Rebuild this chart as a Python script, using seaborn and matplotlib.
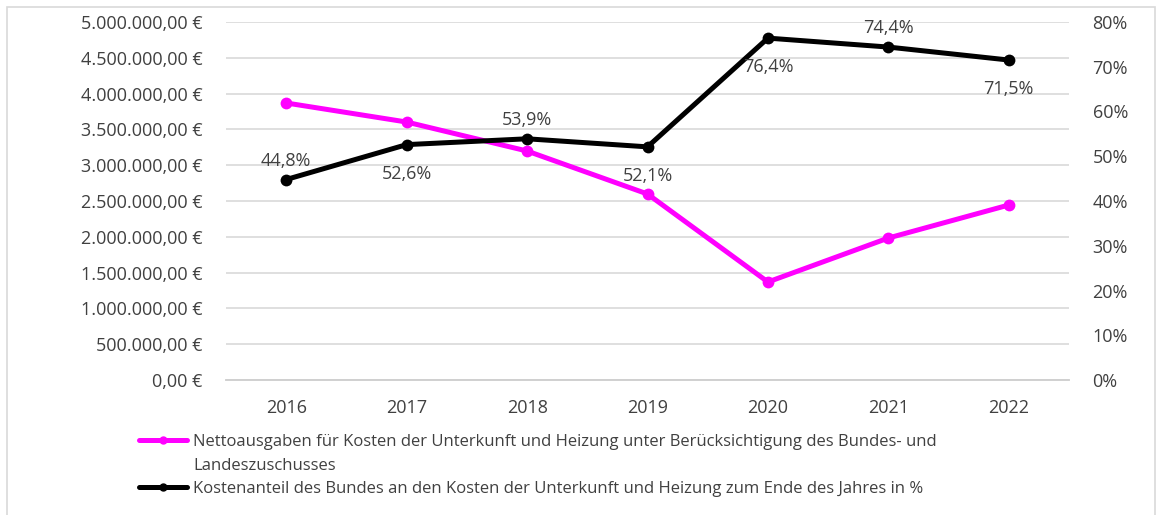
import numpy as np
import pandas as pd
import matplotlib.pyplot as plt
import seaborn as sns
from matplotlib.lines import Line2D
from matplotlib.patches import Rectangle
from matplotlib.ticker import FuncFormatter, MultipleLocator

years = ["2016", "2017", "2018", "2019", "2020", "2021", "2022"]
netto = [3869000, 3603000, 3198000, 2598000, 1369000, 1983000, 2444000]
anteil = [44.8, 52.6, 53.9, 52.1, 76.4, 74.4, 71.5]
label_pos = ["above", "below", "above", "below", "below", "above", "below"]

label_netto = ["Nettoausgaben für Kosten der Unterkunft und Heizung unter Berücksichtigung des Bundes- und",
               "Landeszuschusses"]
label_anteil = "Kostenanteil des Bundes an den Kosten der Unterkunft und Heizung zum Ende des Jahres in %"

pink = "#ff00ff"
text_col = "#404040"

df = pd.DataFrame({"x": np.arange(len(years)), "netto": netto, "anteil": anteil})

sns.set_style("white")
plt.rcParams["font.family"] = ["Open Sans", "DejaVu Sans"]

fig = plt.figure(figsize=(11.63, 5.15), dpi=100)
ax = fig.add_axes([226 / 1163, 1 - 380 / 515, (1069 - 226) / 1163, (380 - 22) / 515])
ax2 = ax.twinx()

sns.lineplot(data=df, x="x", y="netto", ax=ax, color=pink, linewidth=3.6,
             marker="o", markersize=8.5, markeredgewidth=0, legend=False)
sns.lineplot(data=df, x="x", y="anteil", ax=ax2, color="black", linewidth=3.6,
             marker="o", markersize=8.5, markeredgewidth=0, legend=False)

ax.set_xlim(-0.5, len(years) - 0.5)
ax.set_ylim(0, 5000000)
ax2.set_ylim(0, 80)
ax.yaxis.set_major_locator(MultipleLocator(500000))
ax2.yaxis.set_major_locator(MultipleLocator(10))


def euro(v, pos):
    s = f"{v:,.2f}".replace(",", "X").replace(".", ",").replace("X", ".")
    return s + " €"


ax.yaxis.set_major_formatter(FuncFormatter(euro))
ax2.yaxis.set_major_formatter(FuncFormatter(lambda v, p: f"{v:.0f}%"))

ax.set_xticks(range(len(years)))
ax.set_xticklabels(years)
ax.set_xticks(np.arange(-0.5, len(years)), minor=True)
ax.tick_params(axis="x", which="major", length=0, pad=14, labelsize=13, labelcolor=text_col)
ax.tick_params(axis="x", which="minor", length=6, color="#d0d0d0", direction="out")
ax.tick_params(axis="y", length=0, pad=17, labelsize=13, labelcolor=text_col)
ax2.tick_params(axis="y", length=0, pad=17, labelsize=13, labelcolor=text_col)
ax.set_xlabel("")
ax.set_ylabel("")
ax2.set_ylabel("")

ax.grid(axis="y", color="#d9d9d9", linewidth=1.2)
ax.set_axisbelow(True)
for a in (ax, ax2):
    for side in ("top", "left", "right"):
        a.spines[side].set_visible(False)
    a.spines["bottom"].set_color("#d0d0d0")
    a.spines["bottom"].set_linewidth(1.2)
ax2.set_zorder(ax.zorder + 1)
ax2.patch.set_visible(False)

for i, (v, pos) in enumerate(zip(anteil, label_pos)):
    dy = 19 if pos == "above" else -29
    ax2.annotate(f"{v:.1f}%".replace(".", ","), (i, v), xytext=(0, dy), textcoords="offset pixels",
                 ha="center", va="center", fontsize=13, color=text_col)

# legend: the wrapped first label gets a blank handle on its second row
handles = [Line2D([], [], color=pink, linewidth=3.6, marker="o", markersize=5),
           Line2D([], [], linestyle="none"),
           Line2D([], [], color="black", linewidth=3.6, marker="o", markersize=5)]
fig.legend(handles, label_netto + [label_anteil], loc="upper left",
           bbox_to_anchor=(124 / 1163, 1 - 419 / 515), frameon=False, fontsize=12,
           handlelength=2.9, handletextpad=0.35, labelspacing=0.45, labelcolor=text_col)

fig.patches.append(Rectangle((7 / 1163, -5 / 515), 1148 / 1163, 513 / 515, transform=fig.transFigure,
                             fill=False, edgecolor="#d9d9d9", linewidth=1.2))

fig.savefig("out.png", dpi=100)
